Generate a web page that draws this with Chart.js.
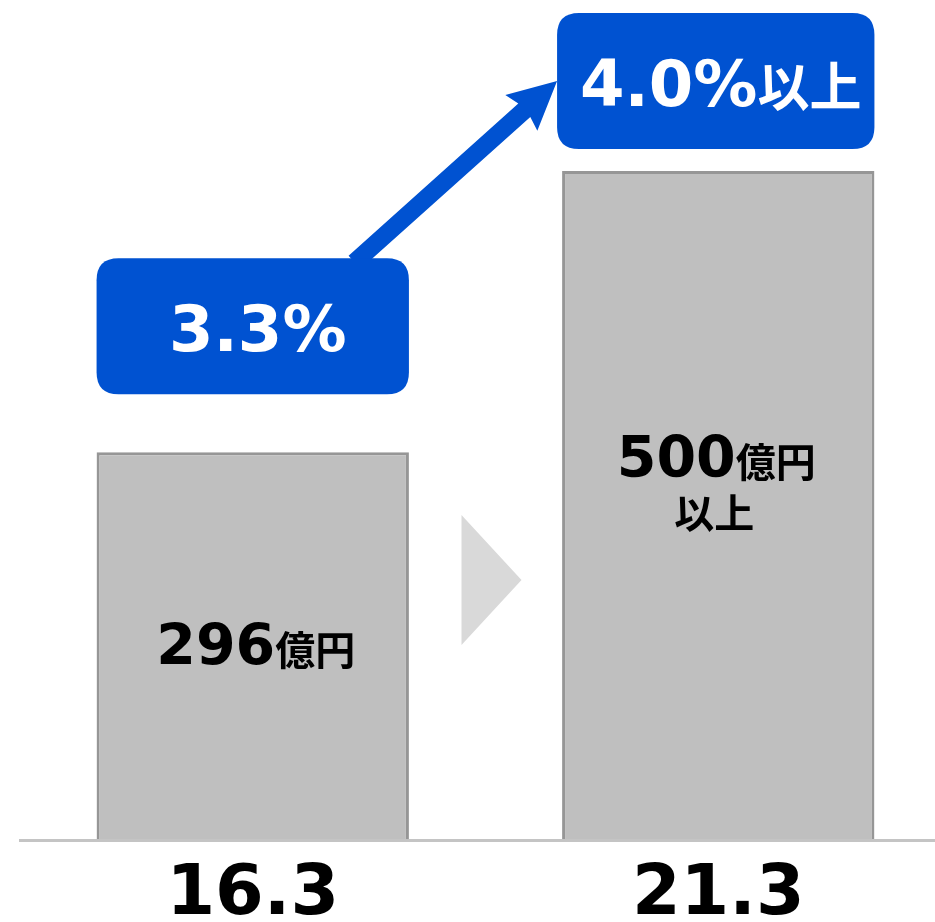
<!DOCTYPE html>
<html lang="ja">
<head>
<meta charset="utf-8">
<script src="https://cdn.jsdelivr.net/npm/chart.js@4.4.1/dist/chart.umd.min.js"></script>
<style>
  html, body { margin: 0; padding: 0; background: #fff; overflow: hidden; }
  #wrap { position: relative; width: 951px; height: 922px; }
</style>
</head>
<body>
<div id="wrap"><canvas id="grafico" width="951" height="922"></canvas></div>
<script>
// Dados do gráfico
const categorias = ['16.3', '21.3'];          // períodos (rótulos do eixo x)
const vendas = [296, 500];                     // valores em 億円
const sufixoVendas = ['', '以上'];             // texto extra abaixo do valor
const margens = ['3.3%', '4.0%'];              // taxa mostrada nas caixas azuis
const sufixoMargem = ['', '以上'];

const AZUL = '#0052d1';
const FONTE_NUM = '"DejaVu Sans", "Noto Sans CJK JP", sans-serif';
const FONTE_JP = '"Noto Sans CJK JP", "DejaVu Sans", sans-serif';

// Desenha pedaços de texto com tamanhos diferentes, centralizados em cx
function textoMisto(ctx, partes, cx, baseY, cor) {
  ctx.save();
  ctx.fillStyle = cor;
  ctx.textBaseline = 'alphabetic';
  ctx.textAlign = 'left';
  let total = 0;
  partes.forEach(p => {
    ctx.font = 'bold ' + p.size + 'px ' + p.family;
    p.w = ctx.measureText(p.text).width;
    total += p.w;
  });
  let x = cx - total / 2;
  partes.forEach(p => {
    ctx.font = 'bold ' + p.size + 'px ' + p.family;
    ctx.fillText(p.text, x, baseY);
    x += p.w;
  });
  ctx.restore();
}

function caixaArredondada(ctx, x1, y1, x2, y2, r) {
  ctx.beginPath();
  ctx.moveTo(x1 + r, y1);
  ctx.lineTo(x2 - r, y1);
  ctx.quadraticCurveTo(x2, y1, x2, y1 + r);
  ctx.lineTo(x2, y2 - r);
  ctx.quadraticCurveTo(x2, y2, x2 - r, y2);
  ctx.lineTo(x1 + r, y2);
  ctx.quadraticCurveTo(x1, y2, x1, y2 - r);
  ctx.lineTo(x1, y1 + r);
  ctx.quadraticCurveTo(x1, y1, x1 + r, y1);
  ctx.closePath();
}

// Plugin com as anotações (caixas, seta, textos)
const anotacoes = {
  id: 'anotacoes',
  afterDatasetsDraw(chart) {
    const ctx = chart.ctx;
    const barras = chart.getDatasetMeta(0).data;
    const area = chart.chartArea;
    const b1 = barras[0], b2 = barras[1];

    // textos dentro das barras
    textoMisto(ctx, [
      { text: String(vendas[0]), size: 57, family: FONTE_NUM },
      { text: '億円', size: 40, family: FONTE_JP }
    ], b1.x + 3, b1.y + 213, '#000');
    textoMisto(ctx, [
      { text: String(vendas[1]), size: 57, family: FONTE_NUM },
      { text: '億円', size: 40, family: FONTE_JP }
    ], b2.x - 2, b2.y + 306, '#000');
    textoMisto(ctx, [{ text: sufixoVendas[1], size: 40, family: FONTE_JP }],
      b2.x - 4, b2.y + 357, '#000');

    // seta cinza entre as barras
    const meio = (b1.x + b1.width / 2 + b2.x - b2.width / 2) / 2;
    const cy = area.bottom - 260;
    ctx.save();
    ctx.fillStyle = '#d9d9d9';
    ctx.beginPath();
    ctx.moveTo(meio - 24, cy - 65);
    ctx.lineTo(meio + 36, cy);
    ctx.lineTo(meio - 24, cy + 65);
    ctx.closePath();
    ctx.fill();
    ctx.restore();

    // caixas azuis
    const c1 = { l: b1.x - b1.width / 2, r: b1.x + b1.width / 2, t: b1.y - 194, b: b1.y - 58 };
    const c2 = { l: b2.x - b2.width / 2 - 5, r: b2.x + b2.width / 2, t: b2.y - 158, b: b2.y - 22 };

    // seta azul
    const x0 = c1.l + 258, y0 = c1.t + 4;
    const xp = c2.l, yp = c2.t + 68;
    const ang = Math.atan2(yp - y0, xp - x0);
    const comp = Math.hypot(xp - x0, yp - y0);
    ctx.save();
    ctx.translate(x0, y0);
    ctx.rotate(ang);
    ctx.fillStyle = AZUL;
    ctx.beginPath();
    ctx.moveTo(0, -9);
    ctx.lineTo(comp - 44, -9);
    ctx.lineTo(comp - 48, -24);
    ctx.lineTo(comp, 0);
    ctx.lineTo(comp - 48, 24);
    ctx.lineTo(comp - 44, 9);
    ctx.lineTo(0, 9);
    ctx.closePath();
    ctx.fill();
    ctx.restore();

    [c1, c2].forEach((c, i) => {
      ctx.save();
      ctx.fillStyle = AZUL;
      caixaArredondada(ctx, c.l, c.t, c.r, c.b, 22);
      ctx.fill();
      ctx.restore();
      const partes = [{ text: margens[i], size: 64, family: FONTE_NUM }];
      if (sufixoMargem[i]) partes.push({ text: sufixoMargem[i], size: 52, family: FONTE_JP });
      textoMisto(ctx, partes, (c.l + c.r) / 2 + 5, c.b - 43, '#fff');
    });
  }
};

const ctx = document.getElementById('grafico').getContext('2d');
new Chart(ctx, {
  type: 'bar',
  data: {
    labels: categorias,
    datasets: [{
      data: vendas,
      backgroundColor: '#bfbfbf',
      borderColor: '#969696',
      borderWidth: 3,
      borderSkipped: 'bottom',
      barPercentage: 0.671,
      categoryPercentage: 1
    }]
  },
  options: {
    responsive: false,
    animation: false,
    events: [],
    layout: { padding: { top: 33, left: 20, right: 0, bottom: 0 } },
    plugins: { legend: { display: false }, tooltip: { enabled: false } },
    scales: {
      x: {
        afterFit(scale) { scale.height = 82; },
        grid: { display: false, drawTicks: false },
        border: { display: true, color: '#c4c4c4', width: 3, z: 1 },
        ticks: {
          color: '#000',
          padding: 24,
          font: { family: FONTE_NUM, size: 70, weight: 'bold', lineHeight: 0.9 }
        }
      },
      y: {
        display: false,
        min: 15,
        max: 600
      }
    }
  },
  plugins: [anotacoes]
});
</script>
</body>
</html>
